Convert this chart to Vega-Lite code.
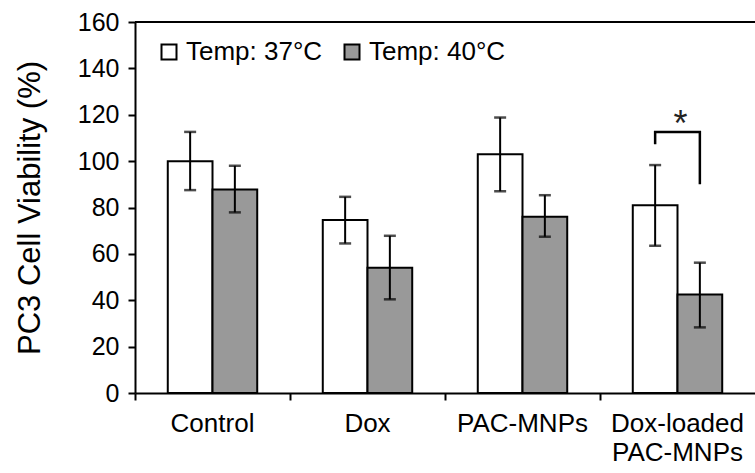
{
  "$schema": "https://vega.github.io/schema/vega-lite/v6.json",
  "width": 620,
  "height": 371,
  "padding": {"left": 14, "top": 10, "right": 0, "bottom": 0},
  "config": {
    "font": "Liberation Sans",
    "view": {"stroke": null},
    "axis": {"domainColor": "black", "tickColor": "black", "labelColor": "black", "titleColor": "black", "domainWidth": 2, "tickWidth": 2, "grid": false}
  },
  "datasets": {
    "bars": [
      {"group": "Control", "temp": "Temp: 37°C", "value": 100, "lo": 87.5, "hi": 112.6},
      {"group": "Control", "temp": "Temp: 40°C", "value": 87.8, "lo": 77.9, "hi": 98},
      {"group": "Dox", "temp": "Temp: 37°C", "value": 74.6, "lo": 64.5, "hi": 84.6},
      {"group": "Dox", "temp": "Temp: 40°C", "value": 54, "lo": 40.4, "hi": 67.8},
      {"group": "PAC-MNPs", "temp": "Temp: 37°C", "value": 103, "lo": 87, "hi": 118.8},
      {"group": "PAC-MNPs", "temp": "Temp: 40°C", "value": 76, "lo": 67.4, "hi": 85.3},
      {"group": "Dox-loaded\nPAC-MNPs", "temp": "Temp: 37°C", "value": 81, "lo": 63.5, "hi": 98.3},
      {"group": "Dox-loaded\nPAC-MNPs", "temp": "Temp: 40°C", "value": 42.5, "lo": 28.3, "hi": 56.2}
    ],
    "bracket": [
      {"group": "Dox-loaded\nPAC-MNPs", "temp": "Temp: 37°C", "y": 107.3, "ord": 1},
      {"group": "Dox-loaded\nPAC-MNPs", "temp": "Temp: 37°C", "y": 112.6, "ord": 2},
      {"group": "Dox-loaded\nPAC-MNPs", "temp": "Temp: 40°C", "y": 112.6, "ord": 3},
      {"group": "Dox-loaded\nPAC-MNPs", "temp": "Temp: 40°C", "y": 90, "ord": 4}
    ],
    "star": [
      {"group": "Dox-loaded\nPAC-MNPs", "y": 111, "label": "*"}
    ]
  },
  "layer": [
    {
      "data": {"name": "bars"},
      "mark": {"type": "bar", "stroke": "black", "strokeWidth": 2},
      "encoding": {
        "x": {
          "field": "group", "type": "nominal",
          "sort": ["Control", "Dox", "PAC-MNPs", "Dox-loaded\nPAC-MNPs"],
          "scale": {"paddingInner": 0, "paddingOuter": 0},
          "axis": {"title": null, "labelAngle": 0, "bandPosition": 0, "tickSize": 7, "labelPadding": 10, "labelFontSize": 26, "labelLineHeight": 29, "labelExpr": "split(datum.label, '\\n')", "labelBaseline": "top"}
        },
        "xOffset": {
          "field": "temp", "type": "nominal",
          "sort": ["Temp: 37°C", "Temp: 40°C"],
          "scale": {"paddingInner": 0, "paddingOuter": 0.733}
        },
        "y": {
          "field": "value", "type": "quantitative",
          "scale": {"domain": [0, 160], "nice": false},
          "axis": {"title": "PC3 Cell Viability (%)", "values": [0, 20, 40, 60, 80, 100, 120, 140, 160], "tickSize": 7, "labelPadding": 9, "labelFontSize": 25, "titleFontSize": 31, "titleFontWeight": "normal", "titlePadding": 31}
        },
        "fill": {
          "field": "temp", "type": "nominal",
          "sort": ["Temp: 37°C", "Temp: 40°C"],
          "scale": {"domain": ["Temp: 37°C", "Temp: 40°C"], "range": ["#ffffff", "#999999"]},
          "legend": {
            "title": null, "orient": "none", "direction": "horizontal",
            "legendX": 21, "legendY": 17, "padding": 0,
            "symbolType": "square", "symbolSize": 225, "symbolStrokeColor": "black", "symbolStrokeWidth": 2,
            "labelFontSize": 26, "labelColor": "black", "labelOffset": 4, "columnPadding": 16
          }
        }
      }
    },
    {
      "data": {"name": "bars"},
      "mark": {"type": "rule", "color": "black", "strokeWidth": 2},
      "encoding": {
        "x": {"field": "group", "type": "nominal", "sort": ["Control", "Dox", "PAC-MNPs", "Dox-loaded\nPAC-MNPs"]},
        "xOffset": {"field": "temp", "type": "nominal", "sort": ["Temp: 37°C", "Temp: 40°C"]},
        "y": {"field": "lo", "type": "quantitative"},
        "y2": {"field": "hi"}
      }
    },
    {
      "data": {"name": "bars"},
      "mark": {"type": "tick", "color": "black", "size": 12, "thickness": 2.5, "orient": "horizontal"},
      "encoding": {
        "x": {"field": "group", "type": "nominal", "sort": ["Control", "Dox", "PAC-MNPs", "Dox-loaded\nPAC-MNPs"]},
        "xOffset": {"field": "temp", "type": "nominal", "sort": ["Temp: 37°C", "Temp: 40°C"]},
        "y": {"field": "lo", "type": "quantitative"}
      }
    },
    {
      "data": {"name": "bars"},
      "mark": {"type": "tick", "color": "black", "size": 12, "thickness": 2.5, "orient": "horizontal"},
      "encoding": {
        "x": {"field": "group", "type": "nominal", "sort": ["Control", "Dox", "PAC-MNPs", "Dox-loaded\nPAC-MNPs"]},
        "xOffset": {"field": "temp", "type": "nominal", "sort": ["Temp: 37°C", "Temp: 40°C"]},
        "y": {"field": "hi", "type": "quantitative"}
      }
    },
    {
      "data": {"name": "bracket"},
      "mark": {"type": "line", "color": "black", "strokeWidth": 2.5},
      "encoding": {
        "x": {"field": "group", "type": "nominal", "sort": ["Control", "Dox", "PAC-MNPs", "Dox-loaded\nPAC-MNPs"]},
        "xOffset": {"field": "temp", "type": "nominal", "sort": ["Temp: 37°C", "Temp: 40°C"]},
        "y": {"field": "y", "type": "quantitative"},
        "order": {"field": "ord", "type": "quantitative"}
      }
    },
    {
      "data": {"name": "star"},
      "mark": {"type": "text", "fontSize": 36, "color": "#222222", "baseline": "alphabetic", "dx": 3},
      "encoding": {
        "x": {"field": "group", "type": "nominal", "sort": ["Control", "Dox", "PAC-MNPs", "Dox-loaded\nPAC-MNPs"]},
        "y": {"field": "y", "type": "quantitative"},
        "text": {"field": "label"}
      }
    },
    {
      "data": {"values": [{}]},
      "mark": {"type": "rule", "color": "black", "strokeWidth": 2},
      "encoding": {"y": {"datum": 160}}
    }
  ]
}
